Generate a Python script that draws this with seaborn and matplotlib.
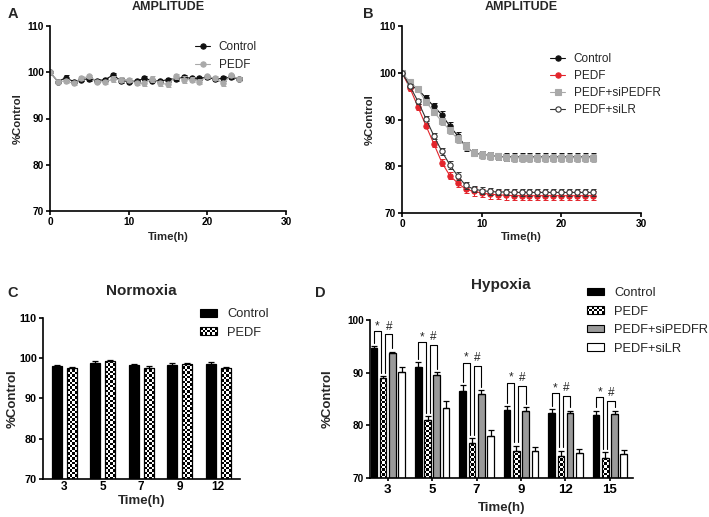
import numpy as np
import pandas as pd
import matplotlib
matplotlib.use("Agg")
import matplotlib.pyplot as plt
import seaborn as sns
from matplotlib.patches import Rectangle, Patch
from matplotlib.legend_handler import HandlerBase

# ---------------- data ----------------
time_h = list(range(25))

# Panel A (AMPLITUDE, normoxia)
a_control = [100, 98.0, 98.8, 98.0, 98.4, 98.6, 98.2, 98.4, 99.4, 98.2, 98.0, 98.1, 98.7,
             98.2, 98.1, 98.4, 98.6, 98.9, 98.7, 98.7, 98.9, 98.5, 98.7, 98.9, 98.6]
a_control_err = [0, 0.3, 0.6, 0.3, 0.3, 0.4, 0.3, 0.3, 0.4, 0.5, 0.3, 0.3, 0.4,
                 0.3, 0.3, 0.4, 0.4, 0.4, 0.3, 0.3, 0.3, 0.3, 0.5, 0.4, 0.3]
a_pedf = [100, 98.0, 98.1, 97.6, 98.7, 99.1, 98.0, 97.9, 98.5, 98.4, 98.4, 97.6, 97.6,
          98.6, 97.6, 97.4, 99.1, 98.4, 98.4, 98.0, 99.1, 98.7, 97.6, 99.3, 98.6]
a_pedf_err = [0, 0.4, 0.5, 0.4, 0.4, 0.4, 0.4, 0.5, 0.6, 0.5, 0.4, 0.4, 0.5,
              0.6, 0.5, 0.6, 0.5, 0.7, 0.5, 0.5, 0.4, 0.4, 0.5, 0.4, 0.4]

# Panel B (AMPLITUDE, hypoxia)
b_control = [100, 97.2, 96.5, 94.6, 92.8, 91.0, 88.6, 86.5, 84.2, 82.9, 82.5, 82.3, 82.1,
             82.0, 82.0, 82.0, 82.0, 82.0, 82.0, 82.0, 82.0, 82.0, 82.0, 82.0, 82.0]
b_control_err = [0, 0.5, 0.5, 0.6, 0.7, 0.8, 0.9, 0.9, 0.9, 0.8, 0.8, 0.8, 0.8,
                 0.8, 0.8, 0.8, 0.8, 0.8, 0.8, 0.8, 0.8, 0.8, 0.8, 0.8, 0.8]
b_pedf = [100, 96.7, 92.7, 88.7, 84.8, 80.8, 78.0, 76.4, 75.1, 74.6, 74.3, 74.0, 73.9,
          73.8, 73.7, 73.7, 73.7, 73.7, 73.7, 73.7, 73.7, 73.7, 73.7, 73.7, 73.7]
b_pedf_err = [0, 0.5, 0.6, 0.6, 0.7, 0.8, 0.8, 0.8, 0.9, 0.9, 0.9, 0.9, 1.0,
              1.0, 1.0, 1.0, 1.0, 1.0, 1.0, 1.0, 1.0, 1.0, 1.0, 1.0, 1.0]
b_sipedfr = [100, 98.0, 96.5, 93.8, 91.6, 89.6, 87.7, 85.8, 84.3, 82.9, 82.4, 82.2, 82.1,
             81.9, 81.8, 81.8, 81.8, 81.8, 81.8, 81.8, 81.8, 81.8, 81.8, 81.8, 81.8]
b_sipedfr_err = [0, 0.4, 0.5, 0.6, 0.7, 0.7, 0.8, 0.8, 0.8, 0.8, 0.8, 0.8, 0.8,
                 0.8, 0.8, 0.8, 0.8, 0.8, 0.8, 0.8, 0.8, 0.8, 0.8, 0.8, 0.8]
b_silr = [100, 97.1, 93.9, 90.2, 86.5, 83.2, 80.3, 77.9, 75.9, 75.1, 74.8, 74.6, 74.5,
          74.5, 74.4, 74.4, 74.4, 74.4, 74.4, 74.4, 74.4, 74.4, 74.4, 74.4, 74.4]
b_silr_err = [0, 0.4, 0.5, 0.6, 0.7, 0.8, 0.9, 0.9, 0.8, 0.7, 0.7, 0.7, 0.7,
              0.7, 0.7, 0.7, 0.7, 0.7, 0.7, 0.7, 0.7, 0.7, 0.7, 0.7, 0.7]

# Panel C (Normoxia bars)
c_times = ["3", "5", "7", "9", "12"]
c_groups = ["Control", "PEDF"]
c_control = [98.0, 98.8, 98.3, 98.3, 98.6]
c_control_err = [0.2, 0.5, 0.35, 0.55, 0.45]
c_pedf = [97.6, 99.2, 97.7, 98.5, 97.6]
c_pedf_err = [0.3, 0.4, 0.35, 0.3, 0.15]

# Panel D (Hypoxia bars)
d_times = ["3", "5", "7", "9", "12", "15"]
d_groups = ["Control", "PEDF", "PEDF+siPEDFR", "PEDF+siLR"]
d_control = [94.6, 91.0, 86.6, 82.9, 82.3, 81.9]
d_control_err = [0.45, 0.95, 1.0, 0.8, 0.75, 0.9]
d_pedf = [89.0, 81.0, 76.6, 75.2, 74.1, 73.8]
d_pedf_err = [0.3, 0.75, 0.95, 0.95, 1.1, 1.1]
d_sipedfr = [93.7, 89.5, 85.9, 82.8, 82.3, 82.2]
d_sipedfr_err = [0.3, 0.6, 0.8, 0.6, 0.5, 0.6]
d_silr = [90.2, 83.3, 77.9, 75.2, 74.7, 74.5]
d_silr_err = [0.8, 1.25, 1.25, 0.75, 0.75, 0.8]
star_labels = ["*"] * 6
hash_labels = ["#"] * 6
bracket_lift = [2.8, 3.9, 4.3, 4.4, 3.1, 2.5]   # annotation layout

# ---------------- style ----------------
sns.set_theme(style="ticks")
plt.rcParams["font.family"] = ["Liberation Sans", "DejaVu Sans"]

W, H = 709, 517
fig = plt.figure(figsize=(W / 100, H / 100), dpi=100)


def px_axes(x0, y0, x1, y1):
    return fig.add_axes([x0 / W, 1 - y1 / H, (x1 - x0) / W, (y1 - y0) / H])


axA = px_axes(50, 26, 286, 211)
axB = px_axes(402, 26, 641, 213)
axC = px_axes(43, 318, 240, 479)
axD = px_axes(370, 320, 633, 478)


def style_axes(ax, xfs, yfs):
    sns.despine(ax=ax)
    for s in ["left", "bottom"]:
        ax.spines[s].set_linewidth(1.2)
        ax.spines[s].set_color("black")
    ax.tick_params(direction="out", length=3.2, width=1.2, pad=1.3, colors="black")
    ax.tick_params(axis="x", labelsize=xfs)
    ax.tick_params(axis="y", labelsize=yfs)
    for lbl in ax.get_xticklabels() + ax.get_yticklabels():
        lbl.set_fontweight("bold")
    ax.set_facecolor("white")
    ax.grid(False)


# ---------------- line panels ----------------
def line_panel(ax, series):
    for name, vals, errs, color, marker, mfc in series:
        ax.errorbar(time_h, vals, yerr=errs, fmt="none", ecolor=color,
                    elinewidth=0.7, capsize=1.8, capthick=0.7)
        sns.lineplot(x=time_h, y=vals, ax=ax, color=color, marker=marker,
                     markersize=3.8, markerfacecolor=mfc, markeredgecolor=color,
                     markeredgewidth=0.8, linewidth=0.8, label=name, errorbar=None)
    ax.set_xlim(0, 30)
    ax.set_ylim(70, 110)
    ax.set_xticks([0, 10, 20, 30])
    ax.set_yticks([70, 80, 90, 100, 110])


RED = "#e3242b"
LGRAY = "#a9a9a9"

line_panel(axA, [
    ("Control", a_control, a_control_err, "#111111", "o", "#111111"),
    ("PEDF", a_pedf, a_pedf_err, LGRAY, "o", LGRAY),
])
line_panel(axB, [
    ("Control", b_control, b_control_err, "#111111", "o", "#111111"),
    ("PEDF", b_pedf, b_pedf_err, RED, "o", RED),
    ("PEDF+siPEDFR", b_sipedfr, b_sipedfr_err, LGRAY, "s", LGRAY),
    ("PEDF+siLR", b_silr, b_silr_err, "#333333", "o", "white"),
])

for ax, anchor, ls in [(axA, (0.614, 0.918), 0.53), (axB, (0.619, 0.855), 0.42)]:
    h, l = ax.get_legend_handles_labels()
    ax.legend(h, l, loc="upper left", bbox_to_anchor=anchor, frameon=False,
              fontsize=8.5, handlelength=1.3, handletextpad=0.7,
              labelspacing=ls, borderpad=0, borderaxespad=0)
    style_axes(ax, 7.3, 7.3)
    ax.set_xlabel("Time(h)", fontsize=8.2, fontweight="bold")
    ax.set_ylabel("%Control", fontsize=8.2, fontweight="bold")
    ax.xaxis.label.set_va("center")
    ax.yaxis.label.set_va("center")

axA.xaxis.set_label_coords(0.5, -0.14)
axA.yaxis.set_label_coords(-0.135, 0.5)
axB.xaxis.set_label_coords(0.5, -0.128)
axB.yaxis.set_label_coords(-0.136, 0.5)


# ---------------- bar panels ----------------
class HandlerChecker(HandlerBase):
    def create_artists(self, legend, orig_handle, xdescent, ydescent, width,
                       height, fontsize, trans):
        x0, y0 = -xdescent, -ydescent
        ny = 3
        ch = height / ny
        nx = max(1, int(round(width / ch)))
        cw = width / nx
        arts = [Rectangle((x0, y0), width, height, facecolor="white",
                          edgecolor="none", transform=trans)]
        for i in range(nx):
            for j in range(ny):
                if (i + j) % 2 == 0:
                    arts.append(Rectangle((x0 + i * cw, y0 + j * ch), cw, ch,
                                          facecolor="black", edgecolor="none",
                                          transform=trans))
        arts.append(Rectangle((x0, y0), width, height, facecolor="none",
                              edgecolor="black", lw=0.8, transform=trans))
        return arts


def add_checker(ax, patch, cell_px=2.4):
    x0 = patch.get_x()
    w = patch.get_width()
    y1 = patch.get_y() + patch.get_height()
    ylo = ax.get_ylim()[0]
    p0 = ax.transData.transform((x0, ylo))
    p1 = ax.transData.transform((x0 + w, y1))
    nx = max(1, int(round((p1[0] - p0[0]) / cell_px)))
    ny = max(1, int(round((p1[1] - p0[1]) / cell_px)))
    grid = (np.add.outer(np.arange(ny), np.arange(nx)) % 2).astype(float)
    im = ax.imshow(grid, cmap="gray", vmin=0, vmax=1, origin="lower",
                   extent=[x0, x0 + w, ylo, y1], aspect="auto",
                   interpolation="nearest", zorder=patch.get_zorder() - 0.05)
    im.set_clip_path(patch)
    patch.set_facecolor("none")


def bar_panel(ax, times, groups, vals, errs, colors, width, gap, ylim, yticks):
    df = pd.DataFrame({
        "time": [t for _ in groups for t in times],
        "value": [v for vs in vals for v in vs],
        "group": [g for g in groups for _ in times],
    })
    sns.barplot(data=df, x="time", y="value", hue="group", order=times,
                hue_order=groups, palette=colors, saturation=1, width=width,
                gap=gap, errorbar=None, edgecolor="black", linewidth=0.9,
                legend=False, ax=ax)
    ax.set_ylim(*ylim)
    ax.set_yticks(yticks)
    conts = list(ax.containers)
    centers = []
    for cont, v, e in zip(conts, vals, errs):
        xs = [p.get_x() + p.get_width() / 2 for p in cont]
        centers.append(xs)
        ax.errorbar(xs, v, yerr=[np.zeros(len(e)), e], fmt="none", ecolor="black",
                    elinewidth=0.9, capsize=2.0, capthick=0.9, zorder=3)
    bw = conts[0][0].get_width()
    return conts, centers, bw


c_conts, c_centers, c_bw = bar_panel(
    axC, c_times, c_groups, [c_control, c_pedf], [c_control_err, c_pedf_err],
    ["black", "white"], 0.78, 0.33, (70, 110), [70, 80, 90, 100, 110])
axC.set_xlim(-0.55, 4.57)

d_conts, d_centers, d_bw = bar_panel(
    axD, d_times, d_groups, [d_control, d_pedf, d_sipedfr, d_silr],
    [d_control_err, d_pedf_err, d_sipedfr_err, d_silr_err],
    ["black", "white", "#9a9a9a", "white"], 0.834, 0.28, (70, 100), [70, 80, 90, 100])
axD.set_xlim(-0.4, 5.52)

for ax, conts in [(axC, c_conts), (axD, d_conts)]:
    xl, yl = ax.get_xlim(), ax.get_ylim()
    for p in conts[1]:
        add_checker(ax, p)
    ax.set_xlim(xl)
    ax.set_ylim(yl)

# significance brackets in D
for j in range(len(d_times)):
    xc, xp, xs = d_centers[0][j], d_centers[1][j], d_centers[2][j]
    tc = d_control[j] + d_control_err[j]
    tp = d_pedf[j] + d_pedf_err[j]
    ts = d_sipedfr[j] + d_sipedfr_err[j]
    top1 = tc + bracket_lift[j]
    top2 = top1 - 0.6
    xl1, xr2 = xp - 0.3 * d_bw, xp + 0.3 * d_bw
    axD.plot([xc, xc, xl1, xl1], [tc + 0.6, top1, top1, tp + 0.6],
             color="black", lw=0.8, zorder=4, clip_on=False)
    axD.plot([xr2, xr2, xs, xs], [tp + 0.6, top2, top2, ts + 0.6],
             color="black", lw=0.8, zorder=4, clip_on=False)
    axD.text((xc + xl1) / 2, top1 + 0.35, star_labels[j], ha="center", va="baseline",
             fontsize=8.5, clip_on=False)
    axD.text((xr2 + xs) / 2, top2 + 0.9, hash_labels[j], ha="center", va="baseline",
             fontsize=8.5, clip_on=False)

checker_handle = Patch(facecolor="white", edgecolor="black", label="PEDF")
c_handles = [Patch(facecolor="black", edgecolor="black", lw=0.8, label="Control"),
             checker_handle]
d_handles = [Patch(facecolor="black", edgecolor="black", lw=0.8, label="Control"),
             checker_handle,
             Patch(facecolor="#9a9a9a", edgecolor="black", lw=0.8, label="PEDF+siPEDFR"),
             Patch(facecolor="white", edgecolor="black", lw=0.8, label="PEDF+siLR")]

for ax, hs, anchor in [(axC, c_handles, (0.797, 1.06)), (axD, d_handles, (0.825, 1.207))]:
    ax.legend(handles=hs, loc="upper left", bbox_to_anchor=anchor, frameon=False,
              fontsize=9.3, handlelength=1.35, handleheight=0.52, handletextpad=0.75,
              labelspacing=0.5, borderpad=0, borderaxespad=0,
              handler_map={checker_handle: HandlerChecker()})

style_axes(axC, 8.5, 7.8)
style_axes(axD, 9.5, 7.2)
axC.tick_params(axis="x", length=0, pad=1.5)
axD.tick_params(axis="x", length=2.5, pad=1.5)
for ax in (axC, axD):
    ax.set_xlabel("Time(h)", fontsize=9.5, fontweight="bold")
    ax.set_ylabel("%Control", fontsize=9.5, fontweight="bold")
    ax.xaxis.label.set_va("center")
    ax.yaxis.label.set_va("center")
axC.xaxis.set_label_coords(0.5, -0.137)
axC.yaxis.set_label_coords(-0.152, 0.5)
axD.xaxis.set_label_coords(0.5, -0.19)
axD.yaxis.set_label_coords(-0.16, 0.5)

# titles and panel letters
def ftext(x, y, s, **kw):
    fig.text(x / W, 1 - y / H, s, fontweight="bold", va="baseline", **kw)

ftext(168, 9.5, "AMPLITUDE", fontsize=9, ha="center")
ftext(521, 9.5, "AMPLITUDE", fontsize=9, ha="center")
ftext(141, 295, "Normoxia", fontsize=11, ha="center")
ftext(501, 289, "Hypoxia", fontsize=11, ha="center")
ftext(8, 18.5, "A", fontsize=10.5, ha="left")
ftext(363, 18.5, "B", fontsize=10.5, ha="left")
ftext(7, 297, "C", fontsize=10.5, ha="left")
ftext(315, 297, "D", fontsize=10.5, ha="left")

fig.savefig("out.png", dpi=100, facecolor="white")
